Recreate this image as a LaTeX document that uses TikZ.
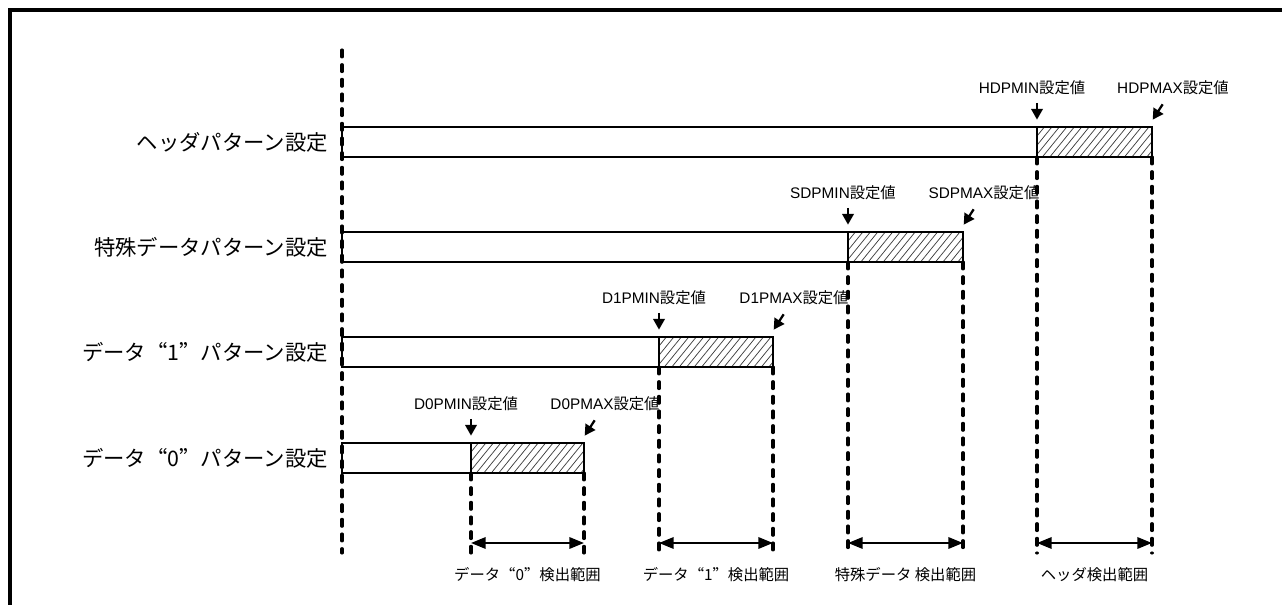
\documentclass[tikz,border=0pt]{standalone}
\usepackage{fontspec}
\setmainfont{Liberation Sans}
\newfontfamily\cjk{Noto Sans CJK JP}
\newfontfamily\cjkfw[RawFeature=+fwid]{Noto Sans CJK JP}
\newcommand\JPtext[1]{{\cjk #1}}
\newcommand\lqfw{{\cjkfw “}}
\newcommand\rqfw{{\cjkfw ”}}
\usetikzlibrary{arrows.meta}
\begin{document}
\begin{tikzpicture}[x=0.75pt,y=-0.75pt,
  bar/.style={draw, line width=1.7pt, fill=white, inner sep=0pt, outer sep=0pt,
    minimum height=22.5pt, anchor=north west},
  hatchbar/.style={bar, path picture={\foreach \k in {0,...,24}{
      \draw[line width=0.55pt, black!75] ([xshift=\k*5.6pt-24pt]path picture bounding box.south west) -- ++(22pt,27pt);}}},
  guide/.style={line width=2.3pt, dash pattern=on 5.2pt off 5.8pt, line cap=round},
  pointer/.style={line width=1.7pt, -{Triangle[width=8.5pt,length=8pt]}},
  rangearrow/.style={line width=1.7pt, {Triangle[width=8.5pt,length=11pt]}-{Triangle[width=8.5pt,length=11pt]}},
  small/.style={font=\fontsize{11.5pt}{13pt}\selectfont, inner sep=0pt},
  big/.style={font=\fontsize{16pt}{19pt}\selectfont\cjk, inner sep=0pt}]
\useasboundingbox (0,0) rectangle (1282,605);
\draw[line width=2.6pt, line join=miter] (10,607) -- (10,10) -- (1284,10);
\coordinate (top) at (342,50);
\coordinate (bot) at (342,553);
\foreach \n/\y/\mn/\mx/\pre/\lab/\rlab in {
  H/127/1037/1152/HD/{ヘッダパターン設定}/{ヘッダ検出範囲},
  S/232/848/963/SD/{特殊データパターン設定}/{特殊データ 検出範囲},
  A/337/659/773/D1/{データ\lqfw 1\rqfw パターン設定}/{データ\lqfw 1\rqfw 検出範囲},
  B/443/471/584/D0/{データ\lqfw 0\rqfw パターン設定}/{データ\lqfw 0\rqfw 検出範囲}}{
  \node[bar, minimum width={(\mn-342)*0.75pt}] (w\n) at (342,\y) {};
  \node[hatchbar, minimum width={(\mx-\mn)*0.75pt}] (h\n) at (\mn,\y) {};
  \node[big, anchor=east] (l\n) at (328,\y+15) {\lab};
  \node[small] (mn\n) at (\mn-5,\y-39) {\pre PMIN\JPtext{設定値}};
  \node[small] (mx\n) at (\mx+21,\y-39) {\pre PMAX\JPtext{設定値}};
  \draw[pointer] ([yshift=18pt]h\n.north west) -- ([yshift=5.5pt]h\n.north west);
  \draw[pointer] ([xshift=8pt,yshift=17pt]h\n.north east) -- ([xshift=0.5pt,yshift=5.5pt]h\n.north east);
  \draw[guide] (h\n.south west) -- (h\n.south west |- bot);
  \draw[guide] (h\n.south east) -- (h\n.south east |- bot);
  \coordinate (ra\n) at (\mn,543);
  \coordinate (rb\n) at (\mx,543);
  \draw[rangearrow] (ra\n) -- (rb\n);
  \node[small] (r\n) at ({(\mn+\mx)/2},575) {\JPtext{\rlab}};
}
\draw[guide] (top) -- (bot);
\end{tikzpicture}
\end{document}
